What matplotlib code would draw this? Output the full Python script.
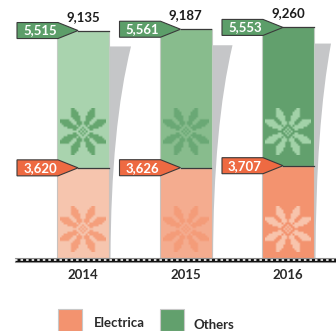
import numpy as np
import matplotlib
matplotlib.use('Agg')
import matplotlib.pyplot as plt
from matplotlib.patches import Polygon, PathPatch, Rectangle
from matplotlib.path import Path
from matplotlib.colors import to_rgba

years = ['2014', '2015', '2016']
electrica = [3620, 3626, 3707]
others = [5515, 5561, 5553]
totals = [9135, 9187, 9260]

electrica_fill = ['#F6C5AE', '#F4AC8F', '#F3936F']
electrica_flake = ['#F59F7C', '#F49C79', '#F8C4AC']
others_fill = ['#A9D3AE', '#88BC8D', '#62A06D']
others_flake = ['#66A66F', '#6AA875', '#A2D2A8']

# one quarter of the snowflake motif, top row first, centre column on the left
flake_quarter = [
    '.....##......',
    '....###......',
    '...####......',
    '...####......',
    '..#####......',
    '..####.......',
    '..###...#####',
    '.###...######',
    '.###..######.',
    '..#.#######..',
    '#..######....',
    '.#..##.......',
    '#.#..........',
]

plt.rcParams['font.family'] = ['Lato', 'DejaVu Sans']
plt.rcParams['lines.scale_dashes'] = False

fig = plt.figure(figsize=(3.36, 3.31), dpi=100)
ax = fig.add_axes([0, 73 / 331, 1, 258 / 331])

px_x = 1 / 102.5
px_y = 40.16
ax.set_xlim(-83 * px_x, 253 * px_x)
ax.set_ylim(0, 258 * px_y)

flake_half = 23
flake_y = [29 * px_y, 126 * px_y]


def draw_flake(x, y, colour):
    # mirror the quarter into a full square motif
    q = np.array([[c == '#' for c in row] for row in flake_quarter])
    top = np.hstack([q[:, :0:-1], q])
    full = np.vstack([top, top[-2::-1]])
    rgba = np.zeros(full.shape + (4,))
    rgba[..., :3] = to_rgba(colour)[:3]
    rgba[..., 3] = full
    ax.imshow(rgba, extent=(x - flake_half * px_x, x + flake_half * px_x,
                            y - flake_half * px_y, y + flake_half * px_y),
              aspect='auto', interpolation='bilinear', zorder=3)


def draw_tag(x, y, text, colour):
    # pentagon label that points at the top of a segment
    h = 8 * px_y
    pts = [(x - 66 * px_x, y - h), (x - 66 * px_x, y + h), (x - 25 * px_x, y + h),
           (x - 5 * px_x, y), (x - 25 * px_x, y - h)]
    ax.add_patch(Polygon(pts, closed=True, facecolor=colour, edgecolor='#3a3a3a',
                         linewidth=0.8, zorder=5))
    ax.plot([x - 5 * px_x, x + 26 * px_x], [y, y], color='#3a3a3a', lw=0.9, zorder=4)
    ax.text(x - 43 * px_x, y, text, color='white', fontsize=9.5, fontweight='bold',
            ha='center', va='center', zorder=6)


x_pos = np.arange(len(years))
shadow_w = [22 * px_x, 21 * px_x, 17 * px_x]

for i, x in enumerate(x_pos):
    right = x + 26 * px_x
    top = totals[i] * 0.93
    verts = [(right, 0), (right, top), (right + shadow_w[i], top),
             (right + 2 * px_x, top * 0.62), (right + 1.5 * px_x, 0), (right, 0)]
    codes = [Path.MOVETO, Path.LINETO, Path.LINETO, Path.CURVE3, Path.CURVE3, Path.CLOSEPOLY]
    ax.add_patch(PathPatch(Path(verts, codes), facecolor='#C5C6C8', edgecolor='none', zorder=1))

ax.bar(x_pos, electrica, width=52 * px_x, color=electrica_fill, edgecolor='#C9C2BE',
       linewidth=0.8, zorder=2)
ax.bar(x_pos, others, width=52 * px_x, bottom=electrica, color=others_fill, edgecolor='#C2CCC3',
       linewidth=0.8, zorder=2)

for i, x in enumerate(x_pos):
    draw_flake(x, flake_y[0], electrica_flake[i])
    draw_flake(x, flake_y[1], others_flake[i])
    draw_tag(x, electrica[i], f'{electrica[i]:,}', '#EE6A42')
    draw_tag(x, totals[i], f'{others[i]:,}', '#5C9E69')
    ax.annotate(f'{totals[i]:,}', (x, totals[i]), xytext=(0, 10), textcoords='offset points',
                ha='center', va='center', fontsize=9.5, fontweight='bold', color='#1c1c1c')

# imshow resets the limits
ax.set_xlim(-83 * px_x, 253 * px_x)
ax.set_ylim(0, 258 * px_y)

# checkered baseline with a thin grey rule on either side
base_x = [-68 * px_x, 253 * px_x]
ax.plot(base_x, [0.5 * px_y] * 2, color='#A5A5A5', lw=0.8, clip_on=False, zorder=6)
ax.plot(base_x, [-4 * px_y] * 2, color='#A5A5A5', lw=0.8, clip_on=False, zorder=6)
ax.plot(base_x, [-2 * px_y] * 2, color='#111111', lw=2.4, clip_on=False,
        solid_capstyle='butt', zorder=7)
ax.plot(base_x, [-2 * px_y] * 2, color='white', lw=1.2, clip_on=False, snap=False,
        linestyle=(0, (1.8, 2.2)), dash_capstyle='butt', zorder=8)

for side in ax.spines:
    ax.spines[side].set_visible(False)
ax.set_yticks([])
ax.set_xticks(x_pos)
ax.set_xticklabels(years, fontsize=9.5, fontweight='bold', color='#2a2a2a')
ax.tick_params(axis='x', length=0, pad=8)
ax.patch.set_alpha(0)

# legend swatches and labels placed along the bottom edge
for name, colour, x0, w, tx, ty in [('Electrica', '#F3936F', 58, 24, 94, 323),
                                    ('Others', '#62A06D', 160, 24, 194, 325)]:
    fig.add_artist(Rectangle((x0 / 336, 0), w / 336, (331 - 309) / 331, facecolor=colour,
                             edgecolor='#C8C8C8', linewidth=0.8, transform=fig.transFigure))
    fig.text(tx / 336, 1 - ty / 331, name, fontsize=9.5, fontweight='bold', color='#2a2a2a',
             ha='left', va='center')

fig.savefig('out.png', dpi=100)
